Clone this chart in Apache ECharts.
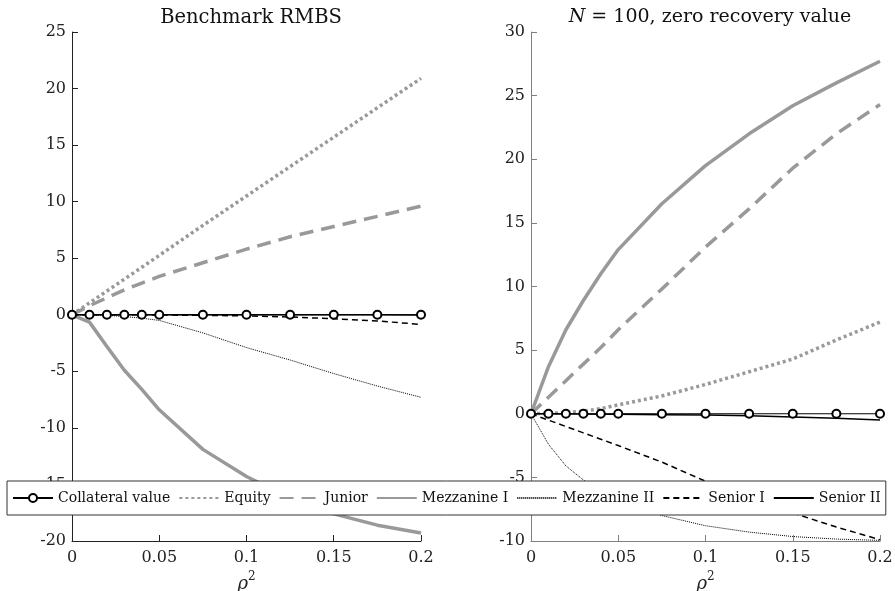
<!DOCTYPE html>
<html>
<head>
<meta charset="utf-8">
<script src="https://cdn.jsdelivr.net/npm/echarts@6/dist/echarts.min.js"></script>
<style>
html, body { margin: 0; padding: 0; background: #fff; }
#main { width: 895px; height: 591px; }
</style>
</head>
<body>
<div id="main"></div>
<script>
// 横轴 rho^2
var rho2 = [0, 0.01, 0.02, 0.03, 0.04, 0.05, 0.075, 0.1, 0.125, 0.15, 0.175, 0.2];

// 左图: Benchmark RMBS
var bmCollateral = [0, 0, 0, 0, 0, 0, 0, 0, 0, 0, 0, 0];
var bmEquity = [0, 1.05, 2.1, 3.15, 4.2, 5.25, 7.9, 10.5, 13.1, 15.7, 18.3, 20.9];
var bmJunior = [0, 0.8, 1.5, 2.2, 2.8, 3.4, 4.6, 5.8, 6.9, 7.8, 8.7, 9.6];
var bmMezzI = [0, -0.65, -2.8, -4.9, -6.6, -8.4, -11.9, -14.3, -16.2, -17.6, -18.6, -19.3];
var bmMezzII = [0, 0, -0.05, -0.15, -0.3, -0.5, -1.6, -2.9, -4.0, -5.2, -6.3, -7.3];
var bmSeniorI = [0, 0, 0, 0, 0, -0.02, -0.05, -0.1, -0.2, -0.35, -0.55, -0.85];
var bmSeniorII = [0, 0, 0, 0, 0, 0, 0, 0, 0, 0, 0, -0.02];

// 右图: N = 100, zero recovery value
var zrCollateral = [0, 0, 0, 0, 0, 0, 0, 0, 0, 0, 0, 0];
var zrEquity = [0, 0.03, 0.1, 0.2, 0.4, 0.7, 1.4, 2.3, 3.3, 4.3, 5.8, 7.2];
var zrJunior = [0, 1.3, 2.6, 3.9, 5.2, 6.6, 9.8, 13.1, 16.1, 19.3, 22.0, 24.3];
var zrMezzI = [0, 3.7, 6.6, 8.9, 11.0, 12.9, 16.5, 19.5, 22.0, 24.2, 26.0, 27.7];
var zrMezzII = [0, -2.4, -4.1, -5.2, -6.1, -6.8, -8.0, -8.8, -9.3, -9.65, -9.85, -9.95];
var zrSeniorI = [0, -0.5, -1.0, -1.5, -2.0, -2.5, -3.8, -5.3, -6.6, -7.8, -8.9, -9.9];
var zrSeniorII = [0, 0, -0.01, -0.02, -0.03, -0.04, -0.07, -0.1, -0.15, -0.25, -0.35, -0.5];

var names = ['Collateral value', 'Equity', 'Junior', 'Mezzanine I', 'Mezzanine II', 'Senior I', 'Senior II'];
var FONT = 'DejaVu Serif';
var GRAY = '#999999';

function pairs(ys) {
    var out = [];
    for (var i = 0; i < rho2.length; i++) out.push([rho2[i], ys[i]]);
    return out;
}

// 线型
var styles = {
    'Collateral value': { color: '#000', width: 1, type: 'solid', symbol: 'emptyCircle', size: 8 },
    'Equity': { color: GRAY, width: 3.5, type: [3, 3] },
    'Junior': { color: GRAY, width: 3.5, type: [14, 8] },
    'Mezzanine I': { color: GRAY, width: 3.5, type: 'solid' },
    'Mezzanine II': { color: '#000', width: 1, type: [1, 1] },
    'Senior I': { color: '#000', width: 1.5, type: [6, 4] },
    'Senior II': { color: '#000', width: 1.5, type: 'solid' }
};

function makeSeries(name, ys, idx, z) {
    var s = styles[name];
    return {
        name: name,
        type: 'line',
        xAxisIndex: idx,
        yAxisIndex: idx,
        data: pairs(ys),
        z: z,
        symbol: s.symbol || 'none',
        symbolSize: s.size || 0,
        showSymbol: !!s.symbol,
        itemStyle: { color: s.color, borderColor: s.color, borderWidth: 1 },
        lineStyle: { color: s.color, width: s.width, type: s.type, cap: 'butt' },
        animation: false
    };
}

var left = [bmCollateral, bmEquity, bmJunior, bmMezzI, bmMezzII, bmSeniorI, bmSeniorII];
var right = [zrCollateral, zrEquity, zrJunior, zrMezzI, zrMezzII, zrSeniorI, zrSeniorII];
var zOrder = [9, 3, 3, 3, 5, 6, 7];
var series = [];
for (var k = 0; k < names.length; k++) {
    series.push(makeSeries(names[k], left[k], 0, zOrder[k]));
    series.push(makeSeries(names[k], right[k], 1, zOrder[k]));
}

// 图例: 只有 Collateral value 显示圆圈
var legendData = names.map(function (n) {
    if (n === 'Collateral value') return { name: n, itemStyle: { borderWidth: 1 } };
    return { name: n, itemStyle: { opacity: 0 } };
});

function xAxisOf(idx, col) {
    return {
        gridIndex: idx, type: 'value', min: 0, max: 0.2, interval: 0.05,
        name: '{r|ρ}{s|2}', nameLocation: 'middle', nameGap: 30,
        nameTextStyle: { rich: {
            r: { fontFamily: FONT, fontSize: 18, fontStyle: 'italic', color: '#222', verticalAlign: 'bottom' },
            s: { fontFamily: FONT, fontSize: 12, color: '#222', verticalAlign: 'top', padding: [0, 0, 10, 0] }
        } },
        axisLine: { onZero: false, lineStyle: { color: col, width: 1 } },
        axisTick: { inside: true, length: 6, lineStyle: { color: col } },
        axisLabel: { fontFamily: FONT, fontSize: 16, color: '#222', margin: 9 },
        splitLine: { show: false }
    };
}

function yAxisOf(idx, lo, hi, col) {
    return {
        gridIndex: idx, type: 'value', min: lo, max: hi, interval: 5,
        axisLine: { show: true, onZero: false, lineStyle: { color: col, width: 1 } },
        axisTick: { show: true, inside: true, length: 6, lineStyle: { color: col } },
        axisLabel: { fontFamily: FONT, fontSize: 16, color: '#222', margin: 6 },
        splitLine: { show: false }
    };
}

var chart = echarts.init(document.getElementById('main'));
var option = {
    backgroundColor: '#fff',
    animation: false,
    title: [
        { text: 'Benchmark RMBS', left: 246, top: 3, textAlign: 'center',
          textStyle: { fontFamily: FONT, fontSize: 19.5, fontWeight: 'normal', color: '#111' } },
        { text: '{i|N} = 100, zero recovery value', left: 705, top: 3, textAlign: 'center',
          textStyle: { fontFamily: FONT, fontSize: 19, fontWeight: 'normal', color: '#111',
            rich: { i: { fontFamily: FONT, fontSize: 19, fontStyle: 'italic', color: '#111' } } } }
    ],
    grid: [
        { left: 72, right: 474, top: 32, bottom: 50, outerBoundsMode: 'none', containLabel: false },
        { left: 531, right: 15, top: 32, bottom: 50, outerBoundsMode: 'none', containLabel: false }
    ],
    xAxis: [xAxisOf(0, '#222'), xAxisOf(1, '#808080')],
    yAxis: [yAxisOf(0, -20, 25, '#222'), yAxisOf(1, -10, 30, '#808080')],
    legend: {
        data: legendData,
        left: 7, top: 481, width: 1000,
        orient: 'horizontal',
        padding: [10, 5, 10, 5],
        itemWidth: 40, itemHeight: 10, itemGap: 8,
        backgroundColor: '#fff',
        borderColor: '#333', borderWidth: 1, borderRadius: 0,
        textStyle: { fontFamily: FONT, fontSize: 14, color: '#111' },
        z: 20
    },
    series: series
};
chart.setOption(option);
</script>
</body>
</html>
